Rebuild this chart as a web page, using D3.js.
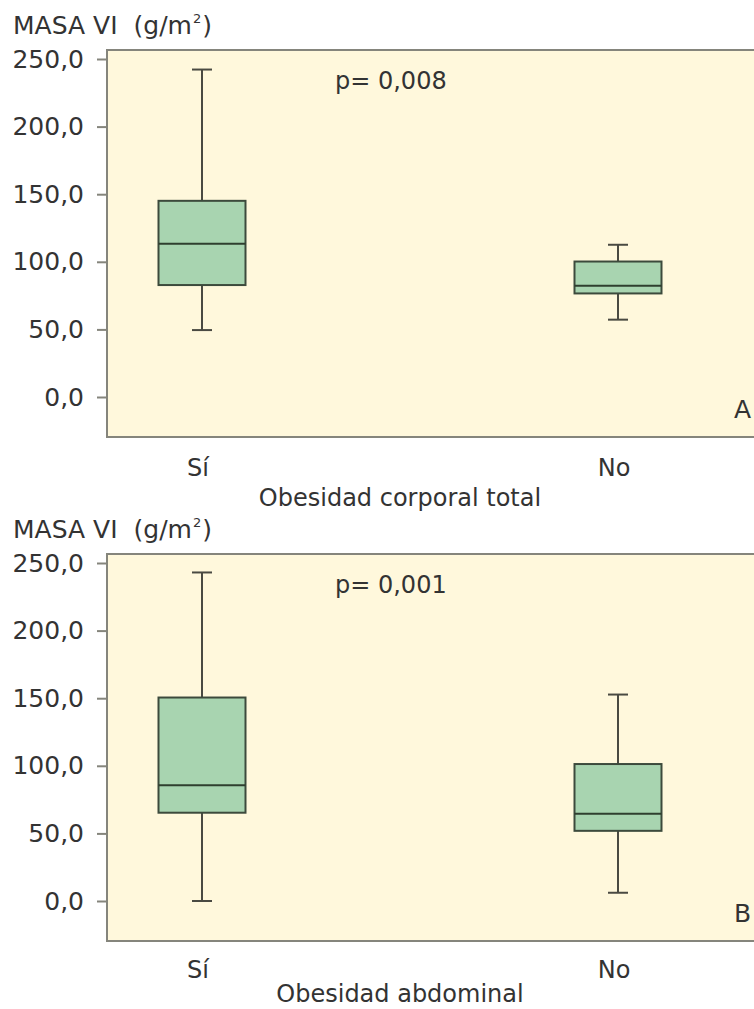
<!DOCTYPE html>
<html>
<head>
<meta charset="utf-8">
<script src="https://cdn.jsdelivr.net/npm/d3@7"></script>
<style>
  html, body { margin: 0; padding: 0; background: #ffffff; }
  svg { display: block; }
  text { font-family: "DejaVu Sans", Verdana, sans-serif; fill: #333333; }
</style>
</head>
<body>
<svg id="chart" width="754" height="1009"></svg>
<script>
// ---- data ----
const categories = ["Sí", "No"];
const panelLetters = ["A", "B"];
const pLabels = ["p= 0,008", "p= 0,001"];
const xTitles = ["Obesidad corporal total", "Obesidad abdominal"];
const yTicks = [0, 50, 100, 150, 200, 250];
const yLabelMain = "MASA VI";
const yLabelUnit = "(g/m";

// Panel A: Obesidad corporal total (Sí, No)
const minA = [49.5, 57.2];
const q1A  = [82.8, 76.6];
const medA = [113.4, 82.2];
const q3A  = [145.1, 100.2];
const maxA = [242.2, 112.6];

// Panel B: Obesidad abdominal (Sí, No)
const minB = [0.0, 6.1];
const q1B  = [65.3, 51.9];
const medB = [85.7, 64.6];
const q3B  = [150.5, 101.3];
const maxB = [243.0, 152.7];

const panels = [
  { min: minA, q1: q1A, med: medA, q3: q3A, max: maxA },
  { min: minB, q1: q1B, med: medB, q3: q3B, max: maxB }
];

// ---- layout ----
const svg = d3.select("#chart");
const panelOffset = 504;
const frame = { left: 107, right: 772, top: 50, bottom: 437 };
const boxWidth = 87;
const capWidth = 20;

const locale = d3.formatLocale({ decimal: ",", thousands: ".", grouping: [3], currency: ["", "€"] });
const fmt = locale.format(".1f");

const x = d3.scalePoint().domain(categories).range([202, 618]);

panels.forEach((p, i) => {
  const g = svg.append("g").attr("transform", `translate(0,${i * panelOffset})`);
  const y = d3.scaleLinear().domain([0, 250]).range([397, 59]);

  // y label
  const yl = g.append("text").attr("x", 13).attr("y", 34).attr("font-size", 25).text(yLabelMain);
  yl.append("tspan").attr("dx", 16).text(yLabelUnit);
  yl.append("tspan").attr("font-size", 13).attr("dy", -11).attr("dx", 1).text("2");
  yl.append("tspan").attr("dy", 11).attr("dx", 1).text(")");

  // plot background frame
  g.append("rect")
    .attr("x", frame.left).attr("y", frame.top)
    .attr("width", frame.right - frame.left).attr("height", frame.bottom - frame.top)
    .attr("fill", "#fff8dc").attr("stroke", "#85857c").attr("stroke-width", 2);

  // y axis
  const axis = d3.axisLeft(y).tickValues(yTicks).tickFormat(fmt).tickSize(9).tickPadding(13);
  const ag = g.append("g").attr("transform", `translate(${frame.left - 1},0)`).call(axis);
  ag.select(".domain").remove();
  ag.selectAll(".tick line").attr("stroke", "#85857c").attr("stroke-width", 2);
  ag.selectAll(".tick text").attr("font-size", 25).attr("fill", "#333333")
    .attr("font-family", "DejaVu Sans, Verdana, sans-serif");

  // boxes
  categories.forEach((c, j) => {
    const cx = x(c);
    const bg = g.append("g");
    // whiskers
    bg.append("line").attr("x1", cx).attr("x2", cx).attr("y1", y(p.max[j])).attr("y2", y(p.q3[j]))
      .attr("stroke", "#4a4a42").attr("stroke-width", 2);
    bg.append("line").attr("x1", cx).attr("x2", cx).attr("y1", y(p.q1[j])).attr("y2", y(p.min[j]))
      .attr("stroke", "#4a4a42").attr("stroke-width", 2);
    bg.append("line").attr("x1", cx - capWidth / 2).attr("x2", cx + capWidth / 2)
      .attr("y1", y(p.max[j])).attr("y2", y(p.max[j])).attr("stroke", "#4a4a42").attr("stroke-width", 2);
    bg.append("line").attr("x1", cx - capWidth / 2).attr("x2", cx + capWidth / 2)
      .attr("y1", y(p.min[j])).attr("y2", y(p.min[j])).attr("stroke", "#4a4a42").attr("stroke-width", 2);
    // box
    bg.append("rect").attr("x", cx - boxWidth / 2).attr("y", y(p.q3[j]))
      .attr("width", boxWidth).attr("height", y(p.q1[j]) - y(p.q3[j]))
      .attr("fill", "#a8d4b0").attr("stroke", "#3c4a3c").attr("stroke-width", 2);
    // median
    bg.append("line").attr("x1", cx - boxWidth / 2).attr("x2", cx + boxWidth / 2)
      .attr("y1", y(p.med[j])).attr("y2", y(p.med[j]))
      .attr("stroke", "#2f3f2f").attr("stroke-width", 2);

    // category label
    g.append("text").attr("x", cx - 4).attr("y", 476 - i * 2).attr("text-anchor", "middle")
      .attr("font-size", 24).text(c);
  });

  // p value
  g.append("text").attr("x", 335).attr("y", 89).attr("font-size", 24).text(pLabels[i]);
  // panel letter
  g.append("text").attr("x", 734).attr("y", 418).attr("font-size", 25).text(panelLetters[i]);
  // x title
  g.append("text").attr("x", 400).attr("y", 506 - i * 8).attr("text-anchor", "middle")
    .attr("font-size", 24).text(xTitles[i]);
});
</script>
</body>
</html>
